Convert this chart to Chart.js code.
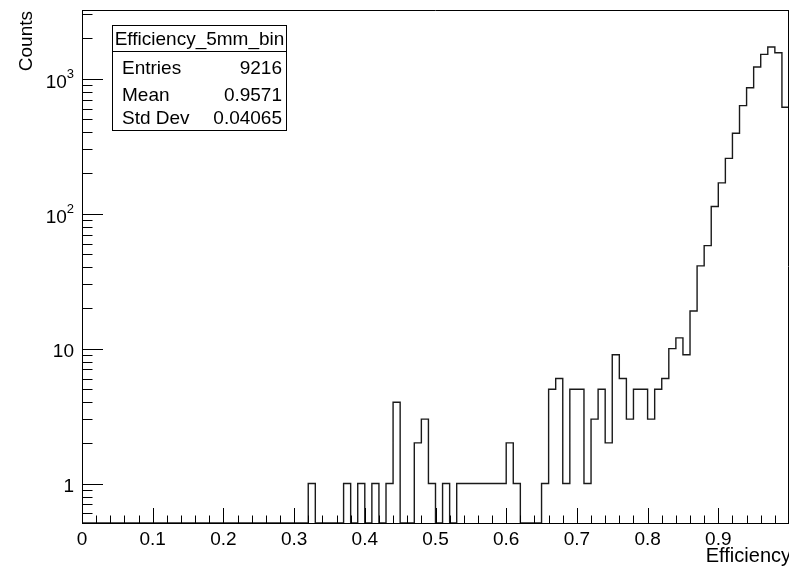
<!DOCTYPE html>
<html>
<head>
<meta charset="utf-8">
<script src="https://cdn.jsdelivr.net/npm/chart.js@4/dist/chart.umd.min.js"></script>
<style>
  html, body { margin: 0; padding: 0; background: #fff; overflow: hidden; }
  canvas { display: block; }
</style>
</head>
<body>
<canvas id="EffHist" width="800" height="569"></canvas>
<script>
// Efficiency histogram, 100 bins of 0.01 between 0 and 1
const binWidth = 0.01;
const binCounts = [
  0, 0, 0, 0, 0, 0, 0, 0, 0, 0,
  0, 0, 0, 0, 0, 0, 0, 0, 0, 0,
  0, 0, 0, 0, 0, 0, 0, 0, 0, 0,
  0, 0, 1, 0, 0, 0, 0, 1, 0, 1,
  0, 1, 0, 1, 4, 0, 0, 2, 3, 1,
  0, 1, 0, 1, 1, 1, 1, 1, 1, 1,
  2, 1, 0, 0, 0, 1, 5, 6, 1, 5,
  5, 1, 3, 5, 2, 9, 6, 3, 5, 5,
  3, 5, 6, 10, 12, 9, 19, 41, 58, 113,
  169, 257, 394, 632, 857, 1221, 1515, 1718, 1558, 615
];

const xTickValues = [0, 0.1, 0.2, 0.3, 0.4, 0.5, 0.6, 0.7, 0.8, 0.9, 1];
const xTickLabels = ["0", "0.1", "0.2", "0.3", "0.4", "0.5", "0.6", "0.7", "0.8", "0.9", ""];
const yTickValues = [1, 10, 100, 1000];
const yTickLabels = ["1", "10", "10^2", "10^3"];

const statTitle = "Efficiency_5mm_bin";
const statNames = ["Entries", "Mean", "Std Dev"];
const statValues = ["9216", "0.9571", "0.04065"];

const yMin = 0.51;
const yMax = 3230;
const FONT = '"Liberation Sans", Arial, Helvetica, sans-serif';

// bin edges as step points; empty bins sit on the lower edge of the log axis
const points = binCounts.map((c, i) => ({ x: i * binWidth, y: Math.max(c, yMin) }));
points.push({ x: binCounts.length * binWidth, y: Math.max(binCounts[binCounts.length - 1], yMin) });

const rootFrame = {
  id: "rootFrame",
  afterDraw(chart) {
    const { ctx, chartArea: a, scales: { x, y } } = chart;
    ctx.save();
    ctx.strokeStyle = "#000";
    ctx.lineWidth = 1;
    ctx.beginPath();
    // top and right frame
    ctx.moveTo(a.left, a.top + 0.5);
    ctx.lineTo(a.right, a.top + 0.5);
    ctx.moveTo(a.right - 0.5, a.top);
    ctx.lineTo(a.right - 0.5, a.bottom);
    // x ticks, inside the frame
    for (let i = 0; i <= 50; i++) {
      const px = Math.round(x.getPixelForValue(i * 0.02)) + 0.5;
      const len = i % 5 === 0 ? 15 : 7.5;
      ctx.moveTo(px, a.bottom);
      ctx.lineTo(px, a.bottom - len);
    }
    // y ticks, decades long, 2..9 short
    [0.1, 1, 10, 100, 1000].forEach(d => {
      for (let m = 1; m <= 9; m++) {
        const v = m * d;
        if (v < yMin || v > yMax) continue;
        const py = Math.round(y.getPixelForValue(v)) + 0.5;
        ctx.moveTo(a.left, py);
        ctx.lineTo(a.left + (m === 1 ? 21 : 10.5), py);
      }
    });
    ctx.stroke();

    // y labels with raised exponents
    ctx.fillStyle = "#000";
    ctx.textBaseline = "alphabetic";
    yTickValues.forEach((v, i) => {
      const py = y.getPixelForValue(v);
      const [base, exp] = yTickLabels[i].split("^");
      const right = a.left - 8;
      ctx.textAlign = "right";
      if (exp) {
        ctx.font = "13px " + FONT;
        ctx.fillText(exp, right, py - 1);
        const ew = ctx.measureText(exp).width;
        ctx.font = "19px " + FONT;
        ctx.fillText(base, right - ew, py + 9);
      } else {
        ctx.font = "19px " + FONT;
        ctx.fillText(base, right, py + 8);
      }
    });

    // axis titles
    ctx.font = "20px " + FONT;
    ctx.textAlign = "right";
    ctx.fillText("Efficiency", 791, 562);
    ctx.save();
    ctx.translate(32, 11);
    ctx.rotate(-Math.PI / 2);
    ctx.font = "19px " + FONT;
    ctx.fillText("Counts", 0, 0);
    ctx.restore();

    // statistics box
    const bx = 112, by = 25, bw = 174, bh = 105;
    ctx.fillStyle = "#fff";
    ctx.fillRect(bx, by, bw, bh);
    ctx.strokeRect(bx + 0.5, by + 0.5, bw, bh);
    ctx.beginPath();
    ctx.moveTo(bx, by + 26.5);
    ctx.lineTo(bx + bw, by + 26.5);
    ctx.stroke();
    ctx.fillStyle = "#000";
    ctx.font = "19px " + FONT;
    ctx.textAlign = "center";
    ctx.fillText(statTitle, bx + bw / 2 + 0.5, by + 19.5);
    const rows = [74, 101, 124];
    statNames.forEach((n, i) => {
      ctx.textAlign = "left";
      ctx.fillText(n, bx + 10, rows[i]);
      ctx.textAlign = "right";
      ctx.fillText(statValues[i], bx + bw - 4, rows[i]);
    });
    ctx.restore();
  }
};

new Chart(document.getElementById("EffHist").getContext("2d"), {
  type: "line",
  data: {
    datasets: [{
      data: points,
      stepped: "before",
      borderColor: "#1a1a1a",
      borderWidth: 1.4,
      pointRadius: 0,
      fill: false
    }]
  },
  options: {
    responsive: false,
    animation: false,
    devicePixelRatio: 1,
    layout: { padding: { top: 10, right: 11, left: 0, bottom: 0 } },
    plugins: { legend: { display: false }, tooltip: { enabled: false } },
    scales: {
      x: {
        type: "linear",
        min: 0,
        max: 1,
        afterBuildTicks: s => { s.ticks = xTickValues.map(v => ({ value: v })); },
        afterFit: s => { s.height = 46; },
        grid: { display: false, drawTicks: false },
        border: { display: true, color: "#000", width: 1 },
        ticks: {
          padding: 5,
          color: "#000",
          maxRotation: 0,
          autoSkip: false,
          font: { family: FONT, size: 19 },
          callback: (v, i) => xTickLabels[i]
        }
      },
      y: {
        type: "logarithmic",
        min: yMin,
        max: yMax,
        afterBuildTicks: s => { s.ticks = yTickValues.map(v => ({ value: v })); },
        afterFit: s => { s.width = 82; },
        grid: { display: false, drawTicks: false },
        border: { display: true, color: "#000", width: 1 },
        ticks: { display: false }
      }
    }
  },
  plugins: [rootFrame]
});
</script>
</body>
</html>
